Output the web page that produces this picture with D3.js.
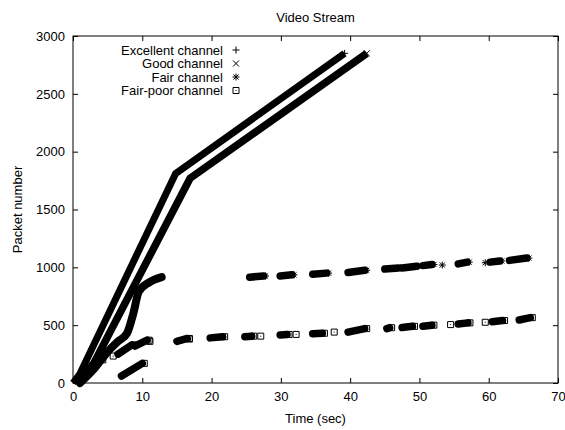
<!DOCTYPE html>
<html>
<head>
<meta charset="utf-8">
<script src="https://cdn.jsdelivr.net/npm/d3@7"></script>
<style>
  body { margin: 0; background: #fff; }
  svg text { font-family: "Liberation Sans", Arial, sans-serif; font-size: 13px; fill: #000; }
  .axis path.domain { display: none; }
  .axis line { stroke: #000; }
</style>
</head>
<body>
<svg id="chart" width="565" height="430"></svg>
<script>
const xTicks = [0, 10, 20, 30, 40, 50, 60, 70]
const yTicks = [0, 500, 1000, 1500, 2000, 2500, 3000]
const seriesNames = ['Excellent channel', 'Good channel', 'Fair channel', 'Fair-poor channel']

// dense streams read as [time, packet] breakpoints
const excellentLine = [[0, 0], [1, 80], [14.8, 1810], [39.2, 2850]]
const goodLine = [[0.6, 0], [3, 170], [16.9, 1770], [42.4, 2850]]
const fairLine = [[1, 0], [3, 120], [5, 270], [6.5, 360], [7.8, 430], [8.7, 600], [9.5, 790], [11, 870], [12.8, 915]]

// clusters: [t0, p0, t1, p1]
const fairClusters = [
  [25.5, 915, 27.5, 925], [29.9, 925, 31.6, 935], [34.6, 940, 36.6, 950],
  [39.7, 955, 42.1, 975], [45, 985, 47, 995], [47.5, 995, 49.6, 1010],
  [50.5, 1015, 51.8, 1025], [55.6, 1030, 56.9, 1045], [60.2, 1045, 61.6, 1055],
  [63, 1060, 65.5, 1080]
]
const fairSingles = [[53.3, 1020], [59.5, 1040]]

const fairPoorClusters = [
  [7, 60, 10, 170], [6.5, 250, 8.5, 330], [9, 320, 10.7, 370],
  [15, 360, 16.5, 385], [19.8, 390, 21.6, 400], [24.8, 400, 25.8, 405],
  [29.9, 415, 30.9, 420], [34.6, 425, 36, 430], [39.7, 440, 42.1, 470],
  [45.3, 470, 45.7, 478], [47.5, 480, 49, 490], [50.5, 490, 51.8, 500],
  [55.6, 510, 57, 520], [60.5, 530, 62, 540], [64.4, 545, 66, 565]
]
const fairPoorSingles = [
  [2.9, 155], [4.3, 200], [5.8, 233], [11.1, 360], [16.8, 380], [27.1, 405],
  [32.2, 420], [37.7, 440], [54.5, 505], [59.5, 525]
]

const width = 565
const height = 430
const margin = { left: 73, right: 7, top: 36, bottom: 47 }

const svg = d3.select('#chart')

const xScale = d3.scaleLinear()
    .domain([0, 70])
    .range([margin.left, width - margin.right])

const yScale = d3.scaleLinear()
    .domain([0, 3000])
    .range([height - margin.bottom, margin.top])

const x0 = xScale(0), x1 = xScale(70), y0 = yScale(0), y1 = yScale(3000)

// ticks on all four sides, pointing in
svg.append('g').attr('class', 'axis')
    .attr('transform', `translate(0,${y0})`)
    .call(d3.axisBottom(xScale).tickValues(xTicks).tickSize(-5).tickPadding(9).tickFormat(d3.format('d')))
svg.append('g').attr('class', 'axis')
    .attr('transform', `translate(0,${y1})`)
    .call(d3.axisTop(xScale).tickValues(xTicks).tickSize(-5).tickFormat(''))
svg.append('g').attr('class', 'axis')
    .attr('transform', `translate(${x0},0)`)
    .call(d3.axisLeft(yScale).tickValues(yTicks).tickSize(-5).tickPadding(8).tickFormat(d3.format('d')))
svg.append('g').attr('class', 'axis')
    .attr('transform', `translate(${x1},0)`)
    .call(d3.axisRight(yScale).tickValues(yTicks).tickSize(-5).tickFormat(''))

svg.selectAll('.axis text').attr('font-size', null)

svg.append('rect')
    .attr('x', x0).attr('y', y1)
    .attr('width', x1 - x0).attr('height', y0 - y1)
    .attr('fill', 'none').attr('stroke', '#000')

// marker shapes
const markers = {
  plus: 'M-3.5,0H3.5M0,-3.5V3.5',
  cross: 'M-3,-3L3,3M-3,3L3,-3',
  star: 'M-3.5,0H3.5M0,-3.5V3.5M-2.6,-2.6L2.6,2.6M-2.6,2.6L2.6,-2.6',
  box: 'M-3,-3H3V3H-3Z'
}

function drawMarker(g, kind, x, y) {
  g.append('path')
      .attr('d', markers[kind])
      .attr('transform', `translate(${x},${y})`)
      .attr('fill', 'none')
      .attr('stroke', '#000')
      .attr('stroke-width', 1)
  if (kind === 'box') {
    g.append('rect').attr('x', x - 0.5).attr('y', y - 0.5)
        .attr('width', 1).attr('height', 1).attr('fill', '#000')
  }
}

const lineGen = d3.line()
    .x(d => xScale(d[0]))
    .y(d => yScale(d[1]))

const smoothGen = d3.line()
    .x(d => xScale(d[0]))
    .y(d => yScale(d[1]))
    .curve(d3.curveMonotoneX)

const plot = svg.append('g')

plot.append('path').attr('d', smoothGen(fairLine))
    .attr('fill', 'none').attr('stroke', '#000').attr('stroke-width', 8)
    .attr('stroke-linejoin', 'round').attr('stroke-linecap', 'round')

plot.append('path').attr('d', lineGen(excellentLine))
    .attr('fill', 'none').attr('stroke', '#000').attr('stroke-width', 7)
    .attr('stroke-linejoin', 'round')

plot.append('path').attr('d', lineGen(goodLine))
    .attr('fill', 'none').attr('stroke', '#000').attr('stroke-width', 7.5)
    .attr('stroke-linejoin', 'round')

drawMarker(plot, 'plus', xScale(39.2), yScale(2850))
drawMarker(plot, 'cross', xScale(42.4), yScale(2850))

function drawClusters(list, singles, kind) {
  list.forEach(c => {
    plot.append('line')
        .attr('x1', xScale(c[0])).attr('y1', yScale(c[1]))
        .attr('x2', xScale(c[2])).attr('y2', yScale(c[3]))
        .attr('stroke', '#000').attr('stroke-width', 7.5)
        .attr('stroke-linecap', 'round')
    drawMarker(plot, kind, xScale(c[2]) + 2, yScale(c[3]))
  })
  singles.forEach(s => drawMarker(plot, kind, xScale(s[0]), yScale(s[1])))
}

drawClusters(fairClusters, fairSingles, 'star')
drawClusters(fairPoorClusters, fairPoorSingles, 'box')

// legend
const legendKinds = ['plus', 'cross', 'star', 'box']
const legend = svg.append('g')
seriesNames.forEach((name, i) => {
  const ly = 50 + i * 13.5
  legend.append('text')
      .attr('x', 223).attr('y', ly).attr('dy', '0.35em')
      .attr('text-anchor', 'end')
      .text(name)
  drawMarker(legend, legendKinds[i], 236, ly)
})

// titles
svg.append('text')
    .attr('x', (x0 + x1) / 2).attr('y', 17).attr('dy', '0.35em')
    .attr('text-anchor', 'middle')
    .text('Video Stream')

svg.append('text')
    .attr('x', (x0 + x1) / 2).attr('y', 418).attr('dy', '0.35em')
    .attr('text-anchor', 'middle')
    .text('Time (sec)')

svg.append('text')
    .attr('transform', `translate(17,${(y0 + y1) / 2}) rotate(-90)`)
    .attr('dy', '0.35em')
    .attr('text-anchor', 'middle')
    .text('Packet number')
</script>
</body>
</html>
